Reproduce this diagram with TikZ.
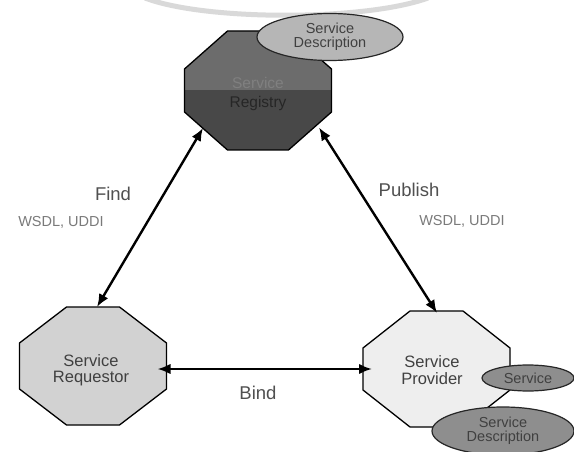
\documentclass[tikz,border=0pt]{standalone}
\usepackage{fontspec}
\setmainfont{Liberation Sans}
\usetikzlibrary{shapes.geometric,arrows.meta,calc}
\definecolor{regtop}{HTML}{6C6C6C}
\definecolor{regbot}{HTML}{484848}
\definecolor{reqfill}{HTML}{D2D2D2}
\definecolor{provfill}{HTML}{EEEEEE}
\definecolor{ellA}{HTML}{B6B6B6}
\definecolor{ellB}{HTML}{8E8E8E}
\definecolor{lbl}{HTML}{505050}
\definecolor{proto}{HTML}{7A7A7A}
\definecolor{inner}{HTML}{404040}
\newcommand{\octpath}[3]{($(#1.north west)+(#2,0)$) -- ($(#1.north east)+(-#2,0)$) -- ($(#1.north east)+(0,#3)$) -- ($(#1.south east)+(0,-#3)$) -- ($(#1.south east)+(-#2,0)$) -- ($(#1.south west)+(#2,0)$) -- ($(#1.south west)+(0,-#3)$) -- ($(#1.north west)+(0,#3)$) -- cycle}
\tikzset{
  octbox/.style={rectangle, inner sep=0pt, outer sep=0pt, minimum width=147pt, minimum height=118pt},
  octline/.style={draw=black, line width=1.3pt, line join=miter},
  descell/.style={ellipse, draw=black!85, line width=1.2pt, inner sep=0pt, align=center,
    font=\fontsize{14.5}{15}\selectfont, text=inner},
  arr/.style={line width=2.4pt, {Latex[length=13pt,width=10.5pt]}-{Latex[length=13pt,width=10.5pt]}},
  verb/.style={font=\fontsize{18.5}{19}\selectfont, text=lbl},
  protolbl/.style={font=\fontsize{14.5}{16}\selectfont, text=proto},
  intext/.style={align=center, font=\fontsize{16.5}{17.5}\selectfont, text=inner}
}
\begin{document}
\begin{tikzpicture}[x=1pt,y=-1pt]
\useasboundingbox (0,0) rectangle (574,452);
\fill[white] (0,0) rectangle (574,452);
% top decorative arc
\draw[line width=5pt, color=black!15] (145,-2) .. controls (205,21) and (365,21) .. (428,-2);
% registry
\node[octbox, minimum height=119pt] (reg) at (258,90.5) {};
\fill[regtop] \octpath{reg}{43}{38};
\begin{scope}
  \clip \octpath{reg}{43}{38};
  \fill[regbot] (reg.west) rectangle (reg.south east);
\end{scope}
\draw[octline] \octpath{reg}{43}{38};
\node[font=\fontsize{15.5}{16}\selectfont, text=black!50] (regt1) at (258,83) {Service};
\node[font=\fontsize{15.5}{16}\selectfont, text=black!85] (regt2) at (258,103) {Registry};
\node[descell, fill=ellA, minimum width=146pt, minimum height=47pt] (rdesc) at (330,37) {Service\\[-1pt]Description};
% requestor
\node[octbox] (req) at (93,366) {};
\filldraw[octline, fill=reqfill] \octpath{req}{47}{36};
\node[intext] (reqt) at (91,370) {Service\\[-1pt]Requestor};
% provider
\node[octbox, minimum height=116pt] (prov) at (436.5,369) {};
\filldraw[octline, fill=provfill] \octpath{prov}{47}{37};
\node[intext] (provt) at (432,370) {Service\\[-1pt]Provider};
\node[descell, fill=ellB, minimum width=92pt, minimum height=26pt] (svc) at (528,378) {Service};
\node[descell, fill=ellB, minimum width=142pt, minimum height=48pt] (pdesc) at (503,431) {Service\\[-1pt]Description};
% connectors
\coordinate (f1) at ($(reg.center)+(-55,37.5)$);
\coordinate (f2) at ($(req.north)+(4,0)$);
\coordinate (p1) at ($(reg.center)+(61,37)$);
\coordinate (p2) at ($(prov.north)+(0.5,2)$);
\coordinate (b1) at ($(req.east)+(-9,3)$);
\coordinate (b2) at ($(prov.west)+(9,0)$);
\draw[arr] (f1) -- (f2);
\draw[arr] (p1) -- (p2);
\draw[arr] (b1) -- (b2);
% labels
\node[verb] (find) at (113,194) {Find};
\node[verb] (pub) at (409,190) {Publish};
\node[verb] (bind) at (258,393) {Bind};
\node[protolbl] (w1) at (61,222) {WSDL, UDDI};
\node[protolbl] (w2) at (462,221) {WSDL, UDDI};
\end{tikzpicture}
\end{document}
